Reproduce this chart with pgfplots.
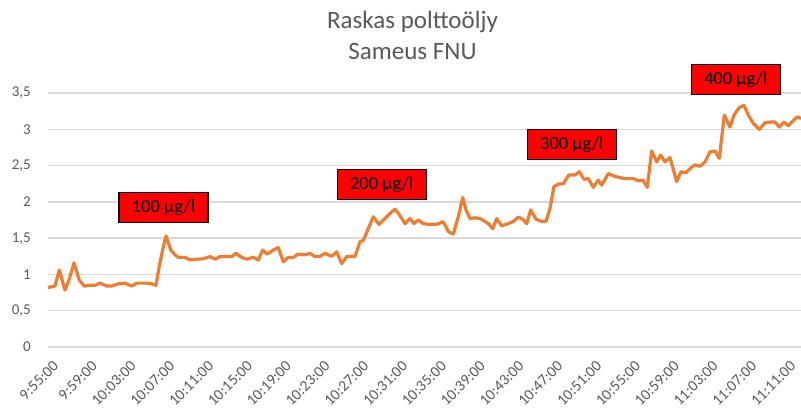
\documentclass[border=0pt]{standalone}
\usepackage{fontspec}
\setmainfont{Carlito}
\usepackage{pgfplots}
\pgfplotsset{compat=1.18}
\definecolor{txtgray}{RGB}{89,89,89}
\definecolor{gridgray}{RGB}{217,217,217}
\definecolor{xlorange}{RGB}{237,125,49}
\pgfplotstableread{
t v
0.00 0.82
0.72 0.84
1.16 1.06
1.75 0.785
2.16 0.92
2.68 1.16
3.23 0.92
3.74 0.84
4.33 0.85
4.85 0.85
5.36 0.88
6.05 0.84
6.57 0.84
7.25 0.87
7.94 0.88
8.63 0.84
9.14 0.88
9.66 0.88
10.18 0.88
10.69 0.87
11.13 0.85
11.47 1.11
11.82 1.34
12.16 1.53
12.68 1.33
13.09 1.27
13.43 1.235
14.12 1.235
14.64 1.20
15.33 1.21
16.01 1.215
16.70 1.245
17.22 1.21
17.73 1.245
18.35 1.245
18.94 1.245
19.38 1.29
19.97 1.235
20.48 1.21
21.16 1.235
21.68 1.20
22.13 1.336
22.61 1.28
23.23 1.336
23.74 1.37
24.26 1.175
24.77 1.235
25.29 1.235
25.80 1.28
26.49 1.27
27.01 1.29
27.53 1.245
28.04 1.25
28.56 1.29
29.25 1.25
29.76 1.31
30.28 1.15
30.79 1.245
31.31 1.25
31.65 1.245
32.16 1.45
32.51 1.47
33.02 1.63
33.54 1.795
34.12 1.69
34.74 1.77
35.26 1.84
35.77 1.90
36.29 1.81
36.80 1.70
37.32 1.77
37.73 1.70
38.18 1.75
38.69 1.70
39.21 1.69
40.07 1.69
40.75 1.726
41.27 1.59
41.78 1.555
42.30 1.795
42.75 2.06
43.09 1.89
43.51 1.77
44.02 1.78
44.54 1.77
45.05 1.73
45.49 1.69
45.85 1.63
46.26 1.77
46.77 1.67
47.45 1.70
47.97 1.73
48.48 1.79
48.94 1.76
49.35 1.70
49.76 1.89
50.31 1.76
50.90 1.73
51.34 1.73
51.75 1.91
52.16 2.21
52.61 2.245
53.12 2.25
53.70 2.37
54.33 2.37
54.77 2.415
55.26 2.31
55.70 2.32
56.22 2.20
56.73 2.30
57.08 2.23
57.76 2.39
58.45 2.35
59.48 2.32
60.34 2.32
60.86 2.29
61.31 2.30
61.78 2.20
62.24 2.70
62.75 2.55
63.16 2.645
63.61 2.55
64.12 2.61
64.81 2.28
65.26 2.415
65.77 2.40
66.19 2.46
66.70 2.51
67.22 2.49
67.73 2.55
68.25 2.69
68.76 2.70
69.21 2.60
69.72 3.195
70.31 3.03
70.72 3.195
71.27 3.30
71.75 3.33
72.20 3.195
72.71 3.08
73.33 3.00
73.92 3.09
74.50 3.10
74.95 3.10
75.39 3.03
75.88 3.10
76.32 3.05
76.83 3.12
77.25 3.17
77.63 3.15
}\datatable
\begin{document}
\begin{tikzpicture}[x=1pt,y=1pt]
\path[use as bounding box] (-48,-64) rectangle (753,347);
\begin{axis}[
  at={(0,0)}, anchor=south west,
  scale only axis, width=753pt, height=254pt,
  xmin=0, xmax=77.63, ymin=0, ymax=3.5,
  clip=false,
  axis line style={draw=none},
  major tick length=0pt,
  ytick={0,0.5,...,3.5},
  ymajorgrids,
  grid style={gridgray, line width=1.3pt},
  xtick={0,4,...,76},
  xticklabels={9:55:00,9:59:00,10:03:00,10:07:00,10:11:00,10:15:00,10:19:00,10:23:00,10:27:00,10:31:00,10:35:00,10:39:00,10:43:00,10:47:00,10:51:00,10:55:00,10:59:00,11:03:00,11:07:00,11:11:00},
  x tick label style={xshift=4pt, yshift=-13pt, rotate=45, anchor=north east, inner sep=0pt, font=\fontsize{15.5}{18}\selectfont, text=txtgray},
  y tick label style={anchor=east, inner sep=0pt, xshift=-17pt, font=\fontsize{15}{17}\selectfont, text=txtgray},
  /pgf/number format/.cd, use comma, assume math mode=true,
]
\addplot[xlorange, line width=3.2pt, line join=round, mark=none] table[x=t, y=v] {\datatable};
\node[fill=red, draw=black, line width=1.2pt, minimum width=89pt, minimum height=30pt, inner sep=0pt, font=\fontsize{18.5}{21}\selectfont] at (axis cs:11.9,1.92) {100 µg/l};
\node[fill=red, draw=black, line width=1.2pt, minimum width=89pt, minimum height=30pt, inner sep=0pt, font=\fontsize{18.5}{21}\selectfont] at (axis cs:34.4,2.24) {200 µg/l};
\node[fill=red, draw=black, line width=1.2pt, minimum width=89pt, minimum height=30pt, inner sep=0pt, font=\fontsize{18.5}{21}\selectfont] at (axis cs:54.0,2.79) {300 µg/l};
\node[fill=red, draw=black, line width=1.2pt, minimum width=89pt, minimum height=30pt, inner sep=0pt, font=\fontsize{18.5}{21}\selectfont] at (axis cs:70.9,3.69) {400 µg/l};
\end{axis}
\node[anchor=base, text=txtgray, inner sep=0pt, font=\fontsize{25}{30}\selectfont] at (364.5,318.7) {Raskas polttoöljy};
\node[anchor=base, text=txtgray, inner sep=0pt, font=\fontsize{25}{30}\selectfont] at (364.5,287) {Sameus FNU};
\end{tikzpicture}
\end{document}
